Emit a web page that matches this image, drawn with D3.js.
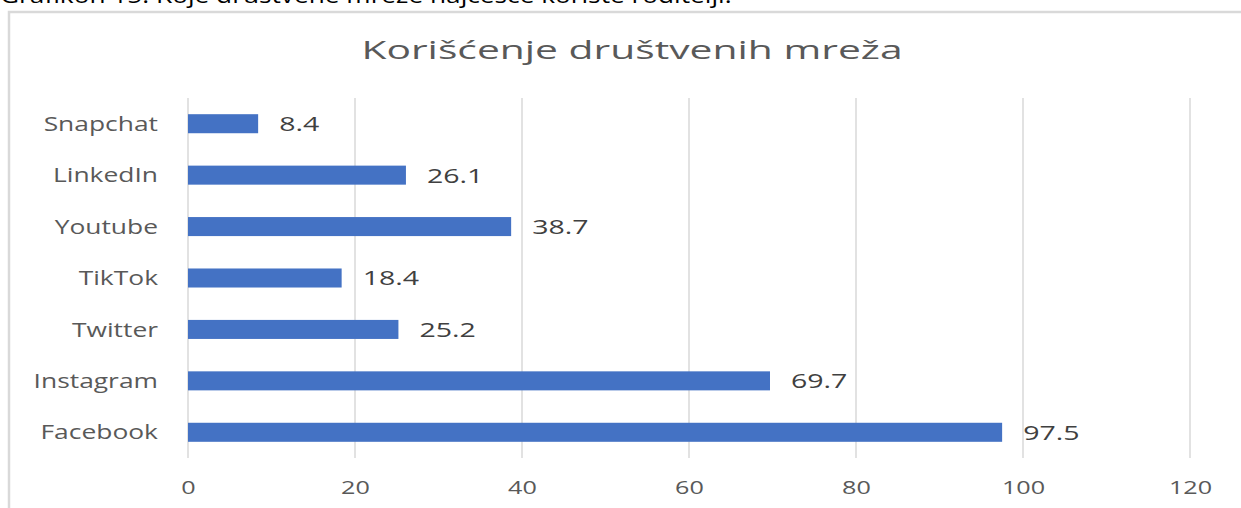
<!DOCTYPE html>
<html><head><meta charset="utf-8">
<script src="https://cdn.jsdelivr.net/npm/d3@7"></script>
<style>body{margin:0;background:#fff}svg{display:block}text{font-family:"Open Sans",sans-serif}</style>
</head><body>
<svg id="c" width="1241" height="508"></svg>
<script>
const categories = ["Snapchat","LinkedIn","Youtube","TikTok","Twitter","Instagram","Facebook"];
const values = [8.4,26.1,38.7,18.4,25.2,69.7,97.5];
const ticks = [0,20,40,60,80,100,120];
const title = "Korišćenje društvenih mreža";
const caption = "Grafikon 15. Koje društvene mreže najčešće koriste roditelji.";

const W=1241,H=508;
const svg=d3.select("#c");
const m={left:188,right:51,top:98,bottom:50};
const x=d3.scaleLinear().domain([0,120]).range([m.left,W-m.right]);
const y=d3.scaleBand().domain(categories).range([m.top,H-m.bottom]).paddingInner(0.63).paddingOuter(0.315);

// caption
svg.append("text").attr("transform","translate(0,3) scale(1.25,1)").attr("font-size",21).attr("fill","#000").text(caption);
// frame
svg.append("rect").attr("x",9).attr("y",12).attr("width",1300).attr("height",600).attr("fill","#fff").attr("stroke","#d9d9d9").attr("stroke-width",2.5);
// title
svg.append("text").attr("transform","translate(632,59) scale(1.6,1)").attr("text-anchor","middle").attr("font-size",25.5).attr("fill","#595959").text(title);
// grid
svg.append("g").selectAll("line").data(ticks).join("line")
  .attr("x1",d=>x(d)).attr("x2",d=>x(d)).attr("y1",m.top).attr("y2",H-m.bottom)
  .attr("stroke","#d9d9d9").attr("stroke-width",1.5);
// bars
svg.append("g").selectAll("rect").data(values).join("rect")
  .attr("x",x(0)).attr("y",(d,i)=>y(categories[i])).attr("width",d=>x(d)-x(0)).attr("height",y.bandwidth())
  .attr("fill","#4472c4");
// value labels
svg.append("g").selectAll("text").data(values).join("text")
  .attr("transform",(d,i)=>"translate("+(x(d)+21)+","+(y(categories[i])+y.bandwidth()/2)+") scale(1.39,1)")
  .attr("dy","0.36em").attr("font-size",20.5).attr("fill","#404040").text(d=>d);
// category labels
svg.append("g").selectAll("text").data(categories).join("text")
  .attr("transform",d=>"translate(158,"+(y(d)+y.bandwidth()/2)+") scale(1.32,1)")
  .attr("text-anchor","end").attr("dy","0.36em").attr("font-size",20).attr("fill","#595959").text(d=>d);
// x tick labels
const ax=svg.append("g").attr("transform","translate(0,"+(H-m.bottom)+")").call(d3.axisBottom(x).tickValues(ticks).tickSize(0).tickPadding(0));
ax.select(".domain").remove();
ax.selectAll("text").attr("y",null).attr("dy",null).attr("transform","translate(0,36) scale(1.36,1)")
  .attr("font-size",18.5).attr("fill","#595959").attr("font-family","Open Sans, sans-serif");
</script>
</body></html>
